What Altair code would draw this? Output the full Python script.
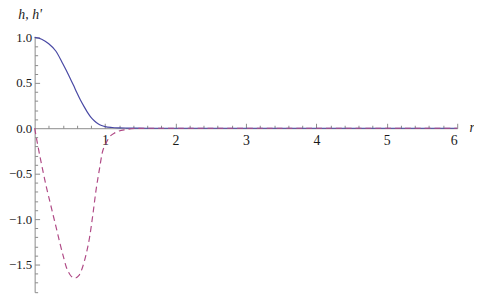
import altair as alt
import pandas as pd

# h(r) (solid)
r_h = [0, 0.1, 0.2, 0.3, 0.4, 0.45, 0.5, 0.55, 0.6, 0.65, 0.7, 0.75, 0.8, 0.85,
       0.9, 0.95, 1.0, 1.1, 1.2, 1.3, 1.45, 1.6, 2.0, 6.0]
h_vals = [1.0, 0.98, 0.93, 0.85, 0.71, 0.635, 0.555, 0.475, 0.39, 0.31, 0.24, 0.175,
          0.12, 0.08, 0.05, 0.03, 0.018, 0.008, 0.004, 0.002, 0.0005, 0.0, 0.0, 0.0]

# h'(r) (dashed)
r_dh = [0, 0.04, 0.08, 0.12, 0.17, 0.22, 0.27, 0.32, 0.36, 0.41, 0.45, 0.5, 0.57,
        0.63, 0.68, 0.73, 0.78, 0.83, 0.87, 0.92, 0.96, 1.01, 1.07, 1.13, 1.2,
        1.29, 1.37, 1.45, 1.6, 2.0, 6.0]
dh_vals = [0.0, -0.17, -0.33, -0.48, -0.66, -0.82, -0.98, -1.14, -1.27, -1.42, -1.53,
           -1.61, -1.65, -1.62, -1.53, -1.39, -1.2, -0.93, -0.69, -0.45, -0.27, -0.17,
           -0.09, -0.055, -0.03, -0.015, -0.006, -0.002, 0.0, 0.0, 0.0]

x_ticks = [0.2, 0.4, 0.6, 0.8, 1.0, 1.2, 1.4, 1.6, 1.8, 2.0, 2.2, 2.4, 2.6, 2.8, 3.0,
           3.2, 3.4, 3.6, 3.8, 4.0, 4.2, 4.4, 4.6, 4.8, 5.0, 5.2, 5.4, 5.6, 5.8, 6.0]
x_labels = [1, 2, 3, 4, 5, 6]
y_ticks = [-1.8, -1.7, -1.6, -1.5, -1.4, -1.3, -1.2, -1.1, -1.0, -0.9, -0.8, -0.7,
           -0.6, -0.5, -0.4, -0.3, -0.2, -0.1, 0.1, 0.2, 0.3, 0.4, 0.5, 0.6, 0.7,
           0.8, 0.9, 1.0]
y_labels = [-1.5, -1.0, -0.5, 0.0, 0.5, 1.0]

df_h = pd.DataFrame({"r": r_h, "v": h_vals})
df_d = pd.DataFrame({"r": r_dh, "v": dh_vals})

W, H = 428, 259
xdom = [0, 6]
ydom = [-1.805, 1.01]
y0_from_bottom = H * (0 - ydom[0]) / (ydom[1] - ydom[0])
y0_from_top = H - y0_from_bottom

xscale = alt.Scale(domain=xdom, nice=False, zero=False)
yscale = alt.Scale(domain=ydom, nice=False, zero=False)

font = "Liberation Serif"
grey = "#8a8a8a"
txt = "#1a1a1a"

major_x = {"condition": {"test": "abs(datum.value - round(datum.value)) < 0.01", "value": 5}, "value": 3}
major_y = {"condition": {"test": "abs(datum.value*2 - round(datum.value*2)) < 0.01", "value": 5}, "value": 3}

solid = alt.Chart(df_h).mark_line(color="#4848a4", strokeWidth=1.2, interpolate="monotone").encode(
    x=alt.X("r:Q", scale=xscale, axis=alt.Axis(
        orient="top", offset=-y0_from_top, values=x_ticks, labels=False, domain=False,
        grid=False, tickSize=major_x, tickColor=grey, tickWidth=1, title=None)),
    y=alt.Y("v:Q", scale=yscale, axis=alt.Axis(
        orient="right", offset=-W, values=y_ticks, labels=False, domain=False,
        grid=False, tickSize=major_y, tickColor=grey, tickWidth=1, title=None)),
)

dashed = alt.Chart(df_d).mark_line(color="#b04a86", strokeWidth=1.2, strokeDash=[6, 4],
                                   interpolate="monotone").encode(
    x=alt.X("r:Q", scale=xscale, axis=alt.Axis(
        orient="bottom", offset=-y0_from_bottom, values=x_labels, ticks=False, tickSize=0,
        domain=True, domainColor=grey, domainWidth=1, grid=False,
        labelFont=font, labelFontSize=14, labelColor=txt, labelPadding=6, format="d",
        title="r", titleFont=font, titleFontSize=14, titleFontStyle="italic",
        titleFontWeight="normal", titleColor=txt, titleX=W + 12, titleY=3,
        titleAlign="left", titleBaseline="alphabetic", titleAngle=0)),
    y=alt.Y("v:Q", scale=yscale, axis=alt.Axis(
        orient="left", values=y_labels, ticks=False, tickSize=0, domain=True,
        domainColor=grey, domainWidth=1, grid=False, format=".1f",
        labelFont=font, labelFontSize=13, labelColor=txt, labelPadding=3,
        labelBaseline="middle",
        title="h, h'", titleFont=font, titleFontSize=14, titleFontStyle="italic",
        titleFontWeight="normal", titleColor=txt, titleAngle=0, titleX=-17, titleY=-18,
        titleAlign="left", titleBaseline="alphabetic")),
)

chart = alt.layer(solid, dashed).resolve_axis(x="independent", y="independent").properties(
    width=W, height=H,
    padding={"left": 27, "top": 27, "right": 17, "bottom": 0},
    autosize=alt.AutoSizeParams(type="none"),
    background="white",
).configure(font=font).configure_view(stroke=None)

chart.save("out.html", embed_options={"renderer": "svg", "actions": False})
